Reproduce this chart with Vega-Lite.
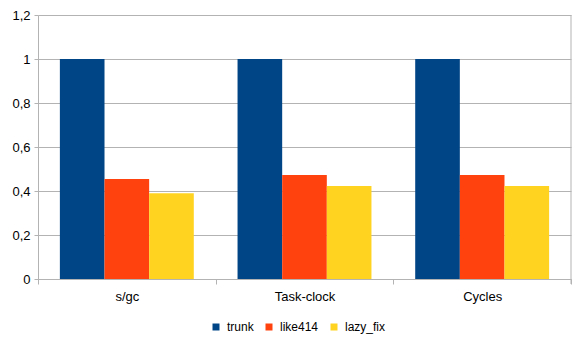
{
  "$schema": "https://vega.github.io/schema/vega-lite/v6.json",
  "width": 533,
  "height": 264,
  "autosize": {"type": "none"},
  "padding": {"left": 38, "top": 15, "right": 13, "bottom": 62},
  "background": "white",
  "config": {
    "view": {"stroke": null},
    "font": "Liberation Sans",
    "axis": {"domainColor": "#b3b3b3", "tickColor": "#b3b3b3", "gridColor": "#b3b3b3", "labelColor": "#000000", "labelFont": "Liberation Sans", "labelFontSize": 13, "domainWidth": 1, "tickWidth": 1, "gridWidth": 1}
  },
  "data": {
    "values": [
      {"cat": "s/gc", "series": "trunk", "value": 1},
      {"cat": "s/gc", "series": "like414", "value": 0.455},
      {"cat": "s/gc", "series": "lazy_fix", "value": 0.39},
      {"cat": "Task-clock", "series": "trunk", "value": 1},
      {"cat": "Task-clock", "series": "like414", "value": 0.473},
      {"cat": "Task-clock", "series": "lazy_fix", "value": 0.423},
      {"cat": "Cycles", "series": "trunk", "value": 1},
      {"cat": "Cycles", "series": "like414", "value": 0.473},
      {"cat": "Cycles", "series": "lazy_fix", "value": 0.423}
    ]
  },
  "layer": [
    {
      "mark": {"type": "bar"},
      "encoding": {
        "x": {
          "field": "cat", "type": "nominal", "sort": ["s/gc", "Task-clock", "Cycles"],
          "scale": {"paddingInner": 0, "paddingOuter": 0},
          "axis": {"title": null, "labelAngle": 0, "tickBand": "extent", "tickSize": 5, "labelPadding": 6, "grid": false}
        },
        "xOffset": {
          "field": "series", "type": "nominal", "sort": ["trunk", "like414", "lazy_fix"],
          "scale": {"paddingInner": 0, "paddingOuter": 0.49}
        },
        "y": {
          "field": "value", "type": "quantitative",
          "scale": {"domain": [0, 1.2], "nice": false},
          "axis": {"title": null, "values": [0, 0.2, 0.4, 0.6, 0.8, 1, 1.2], "format": ".1~f", "labelExpr": "replace(datum.label, '.', ',')", "tickSize": 4, "labelPadding": 4, "grid": true}
        },
        "color": {
          "field": "series", "type": "nominal",
          "scale": {"domain": ["trunk", "like414", "lazy_fix"], "range": ["#004586", "#ff420e", "#ffd320"]},
          "legend": {
            "title": null, "orient": "none", "direction": "horizontal", "legendX": 172, "legendY": 306,
            "symbolType": "square", "symbolSize": 49, "symbolStrokeWidth": 0, "symbolOpacity": 1,
            "labelFontSize": 12, "labelFont": "Liberation Sans", "labelColor": "#000000", "labelOffset": 5, "columnPadding": 9, "padding": 0
          }
        }
      }
    },
    {
      "mark": {"type": "rule", "color": "#b3b3b3", "strokeWidth": 1},
      "data": {"values": [{"v": 1.2}]},
      "encoding": {"x": {"value": 533}, "y": {"value": 0}, "y2": {"value": 269}}
    }
  ]
}
